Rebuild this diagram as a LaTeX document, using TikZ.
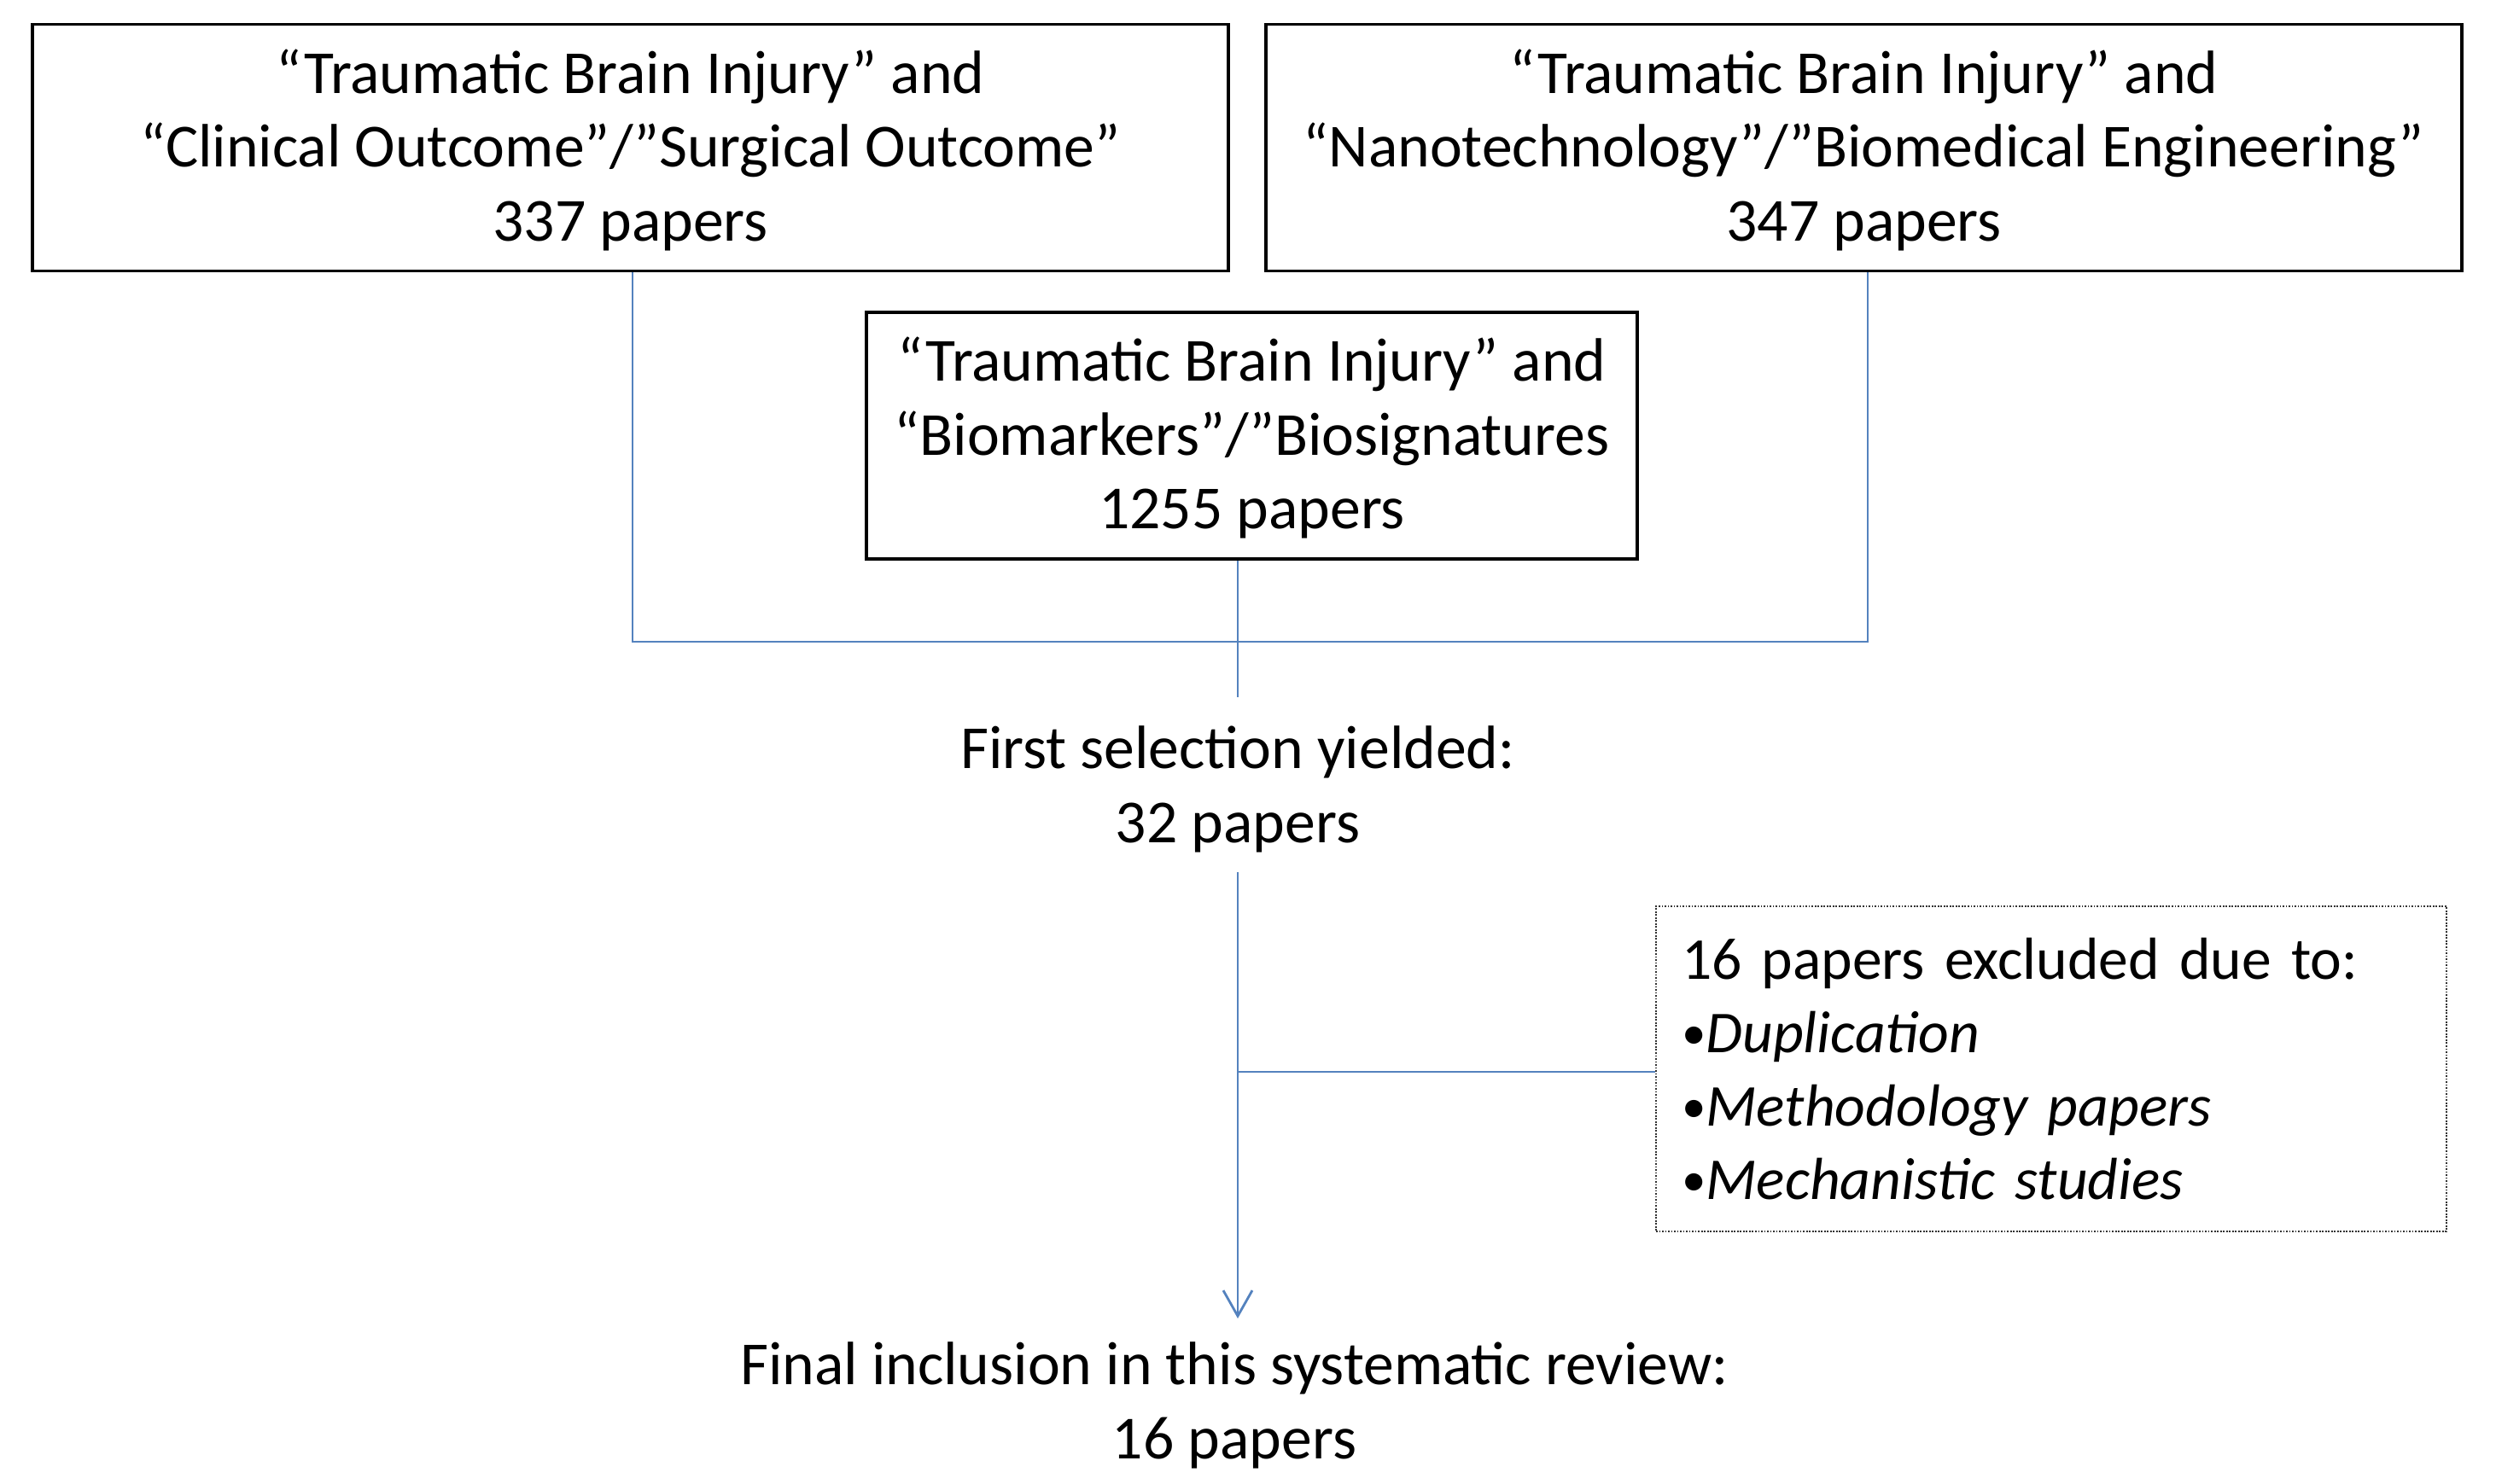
\documentclass[tikz,border=0pt]{standalone}
\usepackage{fontspec}
\setmainfont{Carlito}
\usetikzlibrary{arrows.meta,calc}
\definecolor{conn}{RGB}{84,130,190}
\newcommand{\smbul}{\raisebox{0.06em}{\scalebox{0.82}{•}}}
\tikzset{
  txt/.style={font={\fontsize{20.4}{24.6}\selectfont}, inner sep=0pt, align=center},
  srcbox/.style={txt, draw=black, line width=1pt, minimum height=2.89cm},
  exclbox/.style={font={\fontsize{19.8}{24.5}\selectfont}, inner sep=0pt,
     draw=black!80, line width=0.6pt, dash pattern=on 0.5pt off 0.5pt,
     minimum width=9.26cm, minimum height=3.81cm, align=left, text width=8.66cm},
  link/.style={draw=conn, line width=0.8pt},
  arrowlink/.style={link, -{Straight Barb[length=0.3cm,width=0.34cm,line width=0.8pt]}}
}
\begin{document}
\begin{tikzpicture}[x=1cm,y=-1cm]
\useasboundingbox (0,0) rectangle (29.24,17.39);
\fill[white] (0,0) rectangle (29.24,17.39);

\node[srcbox, minimum width=14.01cm] (b1) at (7.385,1.73)
  {\rule{0pt}{0.8em}“Traumatic Brain Injury” and\\“Clinical Outcome”/”Surgical Outcome”\\337 papers};
\node[srcbox, minimum width=14.01cm] (b2) at (21.835,1.73)
  {\rule{0pt}{0.8em}“Traumatic Brain Injury” and\\“Nanotechnology”/”Biomedical Engineering”\\347 papers};
\node[srcbox, minimum width=9.03cm] (b3) at (14.665,5.105)
  {\rule{0pt}{0.8em}“Traumatic Brain Injury” and\\“Biomarkers”/”Biosignatures\\1255 papers};

\node[txt] (sel) at (14.50,9.25) {First selection yielded:\\32 papers};
\node[exclbox] (ex) at (24.03,12.525)
  {16 papers excluded due to:\\\smbul\textit{Duplication}\\\smbul\textit{Methodology papers}\\\smbul\textit{Mechanistic studies}};
\node[txt] (fin) at (14.46,16.47) {Final inclusion in this systematic review:\\16 papers};

\coordinate (jl) at (7.41,7.52);
\coordinate (jr) at (21.88,7.52);
\coordinate (jm) at (14.50,8.17);
\coordinate (atop) at (14.50,10.22);
\coordinate (atip) at (14.50,15.45);
\coordinate (side) at (14.50,12.56);

\draw[link] (b1.south -| jl) -- (jl) -- (jr) -- (b2.south -| jr);
\draw[link] (b3.south -| jm) -- (jm);
\draw[arrowlink] (atop) -- (atip);
\draw[link] (side) -- (side -| ex.west);
\end{tikzpicture}
\end{document}
